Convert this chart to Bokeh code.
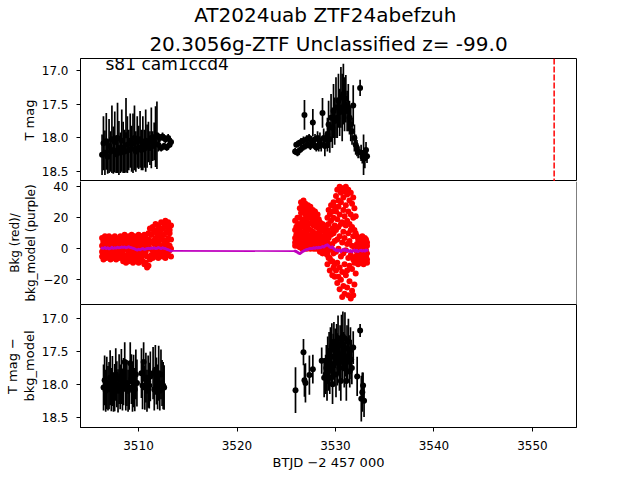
import numpy as np
from bokeh.plotting import figure
from bokeh.layouts import column
from bokeh.models import (Range1d, FixedTicker, Span, Label, Title,
                          ColumnDataSource, CustomJSTickFormatter)
from bokeh.embed import file_html
from bokeh.resources import INLINE

FONT = "DejaVu Sans"

title_line1 = "AT2024uab  ZTF24abefzuh"
title_line2 = "20.3056g-ZTF Unclassified z= -99.0"
sector_label = "s81 cam1ccd4"
x_label = "BTJD \u22122 457 000"
ylabel1 = "T mag"
ylabel2 = "Bkg (red)/\nbkg_model (purple)"
ylabel3 = "T mag \u2212\nbkg_model"

x_ticks = [3510, 3520, 3530, 3540, 3550]
mag_ticks = [17.0, 17.5, 18.0, 18.5]
bkg_ticks = [-20, 0, 20, 40]
discovery_time = 3552.2

# ---- orbit 1 (panels 1 & 2) ----
t1 = [3506.30, 3506.44, 3506.59, 3506.73, 3506.87, 3507.01, 3507.16, 3507.30, 3507.44, 3507.59,
      3507.73, 3507.87, 3508.01, 3508.16, 3508.30, 3508.44, 3508.59, 3508.73, 3508.87, 3509.01,
      3509.16, 3509.30, 3509.44, 3509.59, 3509.73, 3509.87, 3510.01, 3510.16, 3510.30, 3510.44,
      3510.59, 3510.73, 3510.87, 3511.01, 3511.16, 3511.30, 3511.44, 3511.59, 3511.73, 3511.87,
      3512.01, 3512.16, 3512.30, 3512.44, 3512.59, 3512.73, 3512.87, 3513.01, 3513.16, 3513.30]
mag1 = [18.25, 18.08, 18.22, 18.05, 18.28, 18.12, 18.20, 18.02, 18.18, 18.06,
        18.24, 18.00, 18.15, 18.22, 18.04,
        18.14, 18.20, 17.96, 18.10, 18.18, 18.04, 18.16, 18.08, 18.00, 18.20,
        18.06, 18.14, 18.02, 18.18, 18.08, 18.16, 18.04, 18.12,
        18.06, 18.15, 18.00, 18.12, 18.05, 17.98, 17.96, 18.10, 18.00, 18.15,
        17.98, 18.12, 18.02, 18.14, 18.00, 18.10, 18.06]
err1 = [0.30, 0.40, 0.33, 0.42, 0.25, 0.40, 0.30, 0.50, 0.35, 0.45,
        0.28, 0.52, 0.40, 0.30, 0.46,
        0.38, 0.32, 0.55, 0.42, 0.30, 0.40, 0.34, 0.44, 0.48, 0.30,
        0.38, 0.32, 0.42, 0.30, 0.40, 0.28, 0.46, 0.32,
        0.30, 0.25, 0.45, 0.22, 0.28, 0.45, 0.50, 0.10, 0.06, 0.05,
        0.06, 0.05, 0.06, 0.05, 0.06, 0.05, 0.06]
bkg1_a = [7, 5, 8, 4, 6, 8, 5, 7, 4, 8, 6, 5, 7, 8, 5,
          6, 9, 4, 7, 8, 5, 9, 6, 8, 4, 7, 9, 5, 8, 6, 9, 7, 5,
          10, 13, 9, 14, 11, 16, 12, 15, 10, 17, 13, 16, 18, 14, 17, 12, 15]
bkg1_b = [2, 4, 0, 3, 5, 1, 4, 2, 5, 0, 3, 4, 1, 5, 2,
          3, 0, 5, 2, 6, 1, 4, 0, 3, 6, 2, 5, 1, 4, 0, 3, 6, 2,
          6, 4, 9, 5, 11, 7, 10, 4, 8, 12, 6, 9, 5, 11, 7, 10, 6]
bkg1_c = [-2, 0, -4, -1, -3, 1, -2, -4, 0, -3, -1, -4, 0, -2, -3,
          -1, -4, 0, -5, -2, 1, -3, -5, -1, -4, 0, -2, -5, -3, 1, -4, -2, -5,
          2, 0, 4, -1, 3, 1, 5, -1, 2, 6, 0, 3, 1, 4, -1, 2, 0]
bkg1_d = [-5, -7, -4, -6, -5, -3, -7, -5, -6, -4, -7, -5, -6, -3, -6,
          -8, -5, -9, -6, -8, -4, -7, -9, -6, -8, -5, -9, -7, -6, -8, -10, -9, -12,
          -11, -7, -4, -6, -2, -5, -3, -6, -1, -4, -5, -2, -6, -3, -4, -1, -5]
model1 = [0.5, 0.3, 0.8, 0.2, 0.6, 0.0, 0.4, 0.9, 0.3, 0.7,
          0.5, 1.0, 0.6, 0.8, 1.2, 0.9, 1.1, 0.7, 1.0, 1.3,
          0.8, 0.6, 0.3, 0.0, -0.5, -0.8, -0.3, -0.6, -0.2, 0.1,
          -0.4, -0.1, 0.2, 0.4, 0.1, 0.5, 0.3, 0.6, 0.2, 0.4,
          0.8, 0.5, 0.2, 0.6, 0.3, 0.1, -0.3, -0.6, -1.0, -1.4]

# ---- orbit 2 (panels 1 & 2) ----
t2 = [3525.90, 3526.02, 3526.14, 3526.26, 3526.38, 3526.50, 3526.62, 3526.75, 3526.85, 3526.95,
      3527.08, 3527.20, 3527.32, 3527.45, 3527.58, 3527.70, 3527.80, 3527.92, 3528.05, 3528.18,
      3528.30, 3528.42, 3528.55, 3528.68, 3528.80, 3528.92, 3529.05, 3529.18, 3529.30, 3529.42,
      3529.55, 3529.68, 3529.80, 3529.92, 3530.05, 3530.18, 3530.30, 3530.42, 3530.55, 3530.68,
      3530.80, 3530.92, 3531.05, 3531.18, 3531.30, 3531.42, 3531.55, 3531.68, 3531.80, 3531.92,
      3532.05, 3532.18, 3532.30, 3532.50, 3532.60, 3532.72, 3532.85, 3532.98, 3533.10, 3533.20]
mag2 = [18.20, 18.10, 18.22, 18.08, 18.18, 18.06, 18.15, 18.04, 17.66, 18.12,
        18.02, 18.10, 18.00, 18.12, 18.04, 17.77, 18.10, 18.02, 18.14, 18.00,
        18.12, 18.04, 18.10, 17.63, 18.00, 18.12, 18.02, 17.95, 17.80, 18.02,
        17.70, 17.85, 17.60, 17.75, 17.55, 17.70, 17.45, 17.62, 17.40, 17.55,
        17.35, 17.50, 17.42, 17.60, 17.55, 17.70, 17.80, 17.90, 17.52, 18.00,
        18.10, 18.15, 18.20, 17.26, 18.22, 18.28, 18.25, 18.30, 18.18, 18.27]
err2 = [0.05, 0.04, 0.05, 0.05, 0.04, 0.06, 0.05, 0.06, 0.22, 0.05,
        0.06, 0.05, 0.06, 0.06, 0.07, 0.20, 0.06, 0.08, 0.06, 0.10,
        0.08, 0.12, 0.10, 0.22, 0.14, 0.15, 0.12, 0.25, 0.35, 0.20,
        0.35, 0.30, 0.40, 0.35, 0.45, 0.30, 0.40, 0.35, 0.45, 0.50,
        0.45, 0.40, 0.35, 0.30, 0.35, 0.25, 0.25, 0.20, 0.30, 0.20,
        0.15, 0.12, 0.10, 0.12, 0.12, 0.10, 0.30, 0.15, 0.12, 0.10]
bkg2_a = [18, 14, 20, 16,
          26, 30, 28, 31, 27, 29, 25, 28, 24, 27, 23, 25, 21, 24, 20, 22, 19,
          17, 14, 16, 12, 13, 15,
          20, 25, 22, 28, 24, 30, 27,
          34, 38, 31, 40, 36, 39, 33, 37, 40, 35, 38, 31, 36, 29, 33, 26, 21,
          8, 6, 7, 4, 8, 5, 7, 6, 4]
bkg2_b = [12, 9, 15, 11,
          20, 23, 17, 24, 19, 22, 18, 21, 16, 20, 17, 19, 15, 18, 14, 16, 13,
          11, 8, 12, 7, 9, 10,
          12, 16, 10, 18, 13, 20, 15,
          24, 19, 27, 22, 30, 17, 25, 21, 28, 18, 24, 16, 22, 14, 20, 12, 10,
          3, 1, 4, 0, 2, 5, 1, 3, 2]
bkg2_c = [7, 5, 9, 6,
          12, 15, 9, 14, 11, 16, 10, 13, 8, 12, 9, 11, 7, 10, 8, 9, 6,
          5, 3, 6, 2, 4, 5,
          4, 7, 2, 9, 3, 10, 5,
          12, 6, 14, 8, 16, 4, 11, 7, 15, 3, 10, 5, 12, 2, 8, 1, 0,
          -2, -4, -1, -3, -5, -2, -4, -1, -3]
bkg2_d = [4, 3, 5, 2,
          5, 8, 3, 7, 4, 9, 2, 6, 3, 5, 2, 4, 3, 5, 2, 3, 1,
          1, -1, 2, -2, 0, 1,
          -4, -1, -6, 0, -8, -3, -10,
          -2, -9, 0, -12, -5, -15, -3, -10, -1, -14, -6, -11, -4, -13, -7, -9, -5,
          -6, -8, -5, -7, -9, -6, -8, -5, -7]
bkg2_e = [2, 3, 2, 4,
          1, 3, 0, 2, 1, 3, 0, 2, 1, 0, 2, 1, 0, 1, 0, 1, 0,
          -2, 0, -3, -1, -3, -2,
          -10, -6, -14, -8, -17, -12, -18,
          -14, -22, -18, -26, -20, -31, -24, -29, -17, -25, -30, -21, -32, -27, -30, -23, -16,
          -9, -10, -7, -9, -6, -10, -8, -7, -9]
model2 = [-1.5, -1.8, -2.3, -2.8, -3.0, -2.6, -2.0, -1.5, -1.2, -0.8,
          -0.5, -0.3, 0.0, 0.2, 0.1, 0.4, 0.6, 0.3, 0.8, 0.5,
          0.9, 0.6, 1.0, 1.4, 1.1, 1.8, 2.2, 2.6, 2.0, 1.2,
          0.8, 1.3, 0.4, -0.5, -1.2, -0.6, -1.5, -0.8, -1.8, -1.0,
          -0.3, -1.2, -0.6, -1.4, -0.9, -1.8, -1.1, -2.0, -1.3, -0.8,
          -1.6, -1.0, -1.7, -1.2, -0.9, -1.5, -1.1, -1.4, -0.8, -1.0]

# ---- panel 3: T mag - bkg_model ----
t3 = [3506.45, 3506.56, 3506.67, 3506.78, 3506.90, 3507.01, 3507.12, 3507.24, 3507.35, 3507.46,
      3507.58, 3507.69, 3507.80, 3507.92, 3508.03, 3508.14, 3508.26, 3508.37, 3508.48, 3508.60,
      3508.71, 3508.82, 3508.94, 3509.05, 3509.16, 3509.28, 3509.39, 3509.50, 3509.62, 3509.73,
      3509.84,
      3510.30, 3510.41, 3510.52, 3510.64, 3510.75, 3510.86, 3510.98, 3511.09, 3511.20,
      3511.48, 3511.60, 3511.71, 3511.82, 3511.94, 3512.05, 3512.16, 3512.28, 3512.39, 3512.50,
      3512.60,
      3525.94, 3526.75, 3526.85, 3526.95, 3527.35, 3527.70, 3528.60, 3528.85,
      3529.00, 3529.07, 3529.14, 3529.21, 3529.28, 3529.35, 3529.42, 3529.49, 3529.56, 3529.63,
      3529.70, 3529.77, 3529.84, 3529.91, 3529.98, 3530.05, 3530.12, 3530.19, 3530.26, 3530.33,
      3530.40, 3530.47, 3530.54, 3530.61, 3530.68, 3530.75, 3530.82, 3530.89, 3530.96, 3531.03,
      3531.10, 3531.17, 3531.24, 3531.31, 3531.38, 3531.45, 3531.52, 3531.59, 3531.66,
      3531.80, 3532.20, 3532.50, 3532.62, 3532.72, 3532.80, 3532.90]
mag3 = [18.05, 17.94, 18.10, 17.98, 18.06, 18.02, 17.90, 18.08, 17.95, 18.12,
        18.05, 17.85, 18.00, 18.10, 17.92, 18.04, 17.88, 18.08, 17.96, 17.66,
        18.02, 17.98, 18.10, 18.05, 17.68, 17.92, 18.06, 17.95, 18.08, 17.85,
        17.98,
        17.83, 18.02, 17.66, 18.05, 17.90, 18.10, 17.96, 18.02, 17.88,
        17.83, 18.08, 17.78, 17.95, 18.04, 17.83, 18.10, 17.85, 17.98, 18.02,
        18.05,
        18.09, 17.51, 17.94, 17.98, 17.86, 17.77, 17.64, 17.90,
        17.85, 17.75, 17.95, 17.62, 17.80, 17.55, 17.90, 17.48, 17.72, 17.42,
        18.00, 17.58, 17.35, 17.68, 17.45, 17.85, 17.38, 17.62, 17.30, 17.55,
        17.75, 17.40, 17.95, 17.32, 17.60, 17.27, 17.50, 17.70, 17.30, 17.58,
        17.95, 17.45, 17.65, 17.35, 17.55, 17.80, 17.48, 17.62, 17.75,
        17.44, 17.88, 17.18, 18.22, 18.12, 18.02, 18.25]
err3 = [0.35, 0.38, 0.32, 0.40, 0.34, 0.36, 0.42, 0.33, 0.38, 0.30,
        0.36, 0.40, 0.35, 0.33, 0.38, 0.34, 0.42, 0.32, 0.36, 0.30,
        0.38, 0.35, 0.32, 0.34, 0.32, 0.38, 0.36, 0.40, 0.33, 0.38,
        0.36,
        0.38, 0.36, 0.30, 0.34, 0.38, 0.32, 0.40, 0.35, 0.38,
        0.40, 0.32, 0.38, 0.36, 0.34, 0.42, 0.30, 0.38, 0.35, 0.36,
        0.34,
        0.35, 0.20, 0.25, 0.30, 0.30, 0.22, 0.20, 0.30,
        0.30, 0.35, 0.30, 0.35, 0.30, 0.35, 0.25, 0.35, 0.30, 0.35,
        0.30, 0.35, 0.30, 0.35, 0.30, 0.35, 0.30, 0.40, 0.35, 0.30,
        0.35, 0.30, 0.30, 0.38, 0.35, 0.38, 0.30, 0.35, 0.40, 0.30,
        0.30, 0.35, 0.30, 0.35, 0.30, 0.25, 0.35, 0.30, 0.25,
        0.25, 0.30, 0.10, 0.35, 0.30, 0.20, 0.25]

# ---------------------------------------------------------------
x_range = Range1d(3504.11, 3554.47)

def make_fig(y_range, top, bottom, x_axis, outline=True):
    p = figure(frame_width=496, frame_height=123, x_range=x_range, y_range=y_range,
               output_backend="svg", toolbar_location=None,
               min_border_left=80, min_border_right=64,
               min_border_top=top, min_border_bottom=bottom,
               x_axis_location="below" if x_axis else None)
    p.xgrid.visible = False
    p.ygrid.visible = False
    p.outline_line_color = "black" if outline else None
    p.outline_line_width = 1
    p.outline_line_alpha = 1
    p.background_fill_color = "white"
    p.border_fill_color = "white"
    return p

def style_axis(ax, ticks, code, label, label_size="13px"):
    ax.ticker = FixedTicker(ticks=ticks)
    ax.formatter = CustomJSTickFormatter(code=code)
    ax.minor_tick_line_color = None
    ax.major_tick_in = 0
    ax.major_tick_out = 4
    ax.major_tick_line_color = "black"
    ax.axis_line_color = "black"
    ax.major_label_text_font = FONT
    ax.major_label_text_font_size = "12px"
    ax.major_label_text_color = "black"
    ax.axis_label = label
    ax.axis_label_text_font = FONT
    ax.axis_label_text_font_size = label_size
    ax.axis_label_text_font_style = "normal"
    ax.axis_label_text_color = "black"
    ax.axis_label_text_line_height = 1.15

mag_code = "return tick.toFixed(1);"
bkg_code = "return (tick < 0 ? '\\u2212' : '') + Math.abs(tick).toFixed(0);"
x_code = "return tick.toFixed(0);"

def errorbars(p, t, m, e):
    t = np.array(t); m = np.array(m); e = np.array(e)
    src = ColumnDataSource(dict(t=t, m=m, lo=m - e, hi=m + e))
    p.segment(x0="t", y0="lo", x1="t", y1="hi", source=src,
              line_color="black", line_width=1.7)
    p.scatter(x="t", y="m", source=src, size=6, fill_color="black",
              line_color=None)

# Panel 1
p1 = make_fig(Range1d(18.645, 16.824), 58, 0, False)
style_axis(p1.yaxis[0], mag_ticks, mag_code, ylabel1)
p1.yaxis[0].major_label_standoff = 8
p1.yaxis[0].axis_label_standoff = 2
errorbars(p1, t1, mag1, err1)
errorbars(p1, t2, mag2, err2)
p1.add_layout(Span(location=discovery_time, dimension="height", line_color="red",
                   line_dash="6 2", line_width=1.5))
p1.add_layout(Label(x=3506.65, y=16.90, text=sector_label, text_font=FONT,
                    text_font_size="17px", text_color="black",
                    text_baseline="alphabetic", text_align="left"))
# outer title line
p1.title.text = title_line1
p1.title.align = "center"
p1.title.text_font = FONT
p1.title.text_font_size = "20px"
p1.title.text_font_style = "normal"
p1.title.text_color = "black"
p1.title.text_line_height = 0.9
p1.title.standoff = 0
# inner title line (closest to the frame)
p1.add_layout(Title(text=title_line2, align="center", text_font=FONT,
                    text_color="black", text_font_size="20px",
                    text_font_style="normal", text_line_height=0.9, standoff=6),
              "above")

# Panel 2 (its top/bottom edges come from the neighbouring panels' outlines)
p2 = make_fig(Range1d(-35.9, 43.3), 0, 0, False, outline=False)
style_axis(p2.yaxis[0], bkg_ticks, bkg_code, ylabel2, label_size="12px")
p2.yaxis[0].major_label_standoff = 8
p2.yaxis[0].axis_label_standoff = 2
for tt, arrs in ((t1, (bkg1_a, bkg1_b, bkg1_c, bkg1_d)),
                 (t2, (bkg2_a, bkg2_b, bkg2_c, bkg2_d, bkg2_e))):
    for arr in arrs:
        p2.scatter(x=tt, y=arr, size=6, fill_color="red", line_color=None)
t_model = t1 + t2
v_model = model1 + model2
p2.line(x=t_model, y=v_model, line_color="#bf00bf", line_width=1.7)
p2.scatter(x=t_model, y=v_model, size=3, fill_color="#bf00bf", line_color=None)
p2.add_layout(Span(location=x_range.end, dimension="height", line_color="black",
                   line_width=1))

# Panel 3
p3 = make_fig(Range1d(18.66, 16.782), 0, 53, True)
style_axis(p3.yaxis[0], mag_ticks, mag_code, ylabel3)
p3.yaxis[0].major_label_standoff = 8
p3.yaxis[0].axis_label_standoff = 2
style_axis(p3.xaxis[0], x_ticks, x_code, x_label)
p3.xaxis[0].major_label_standoff = 9
p3.xaxis[0].axis_label_standoff = 2
errorbars(p3, t3, mag3, err3)

layout = column(p1, p2, p3, spacing=0)
open("out.html", "w").write(file_html(layout, INLINE))
